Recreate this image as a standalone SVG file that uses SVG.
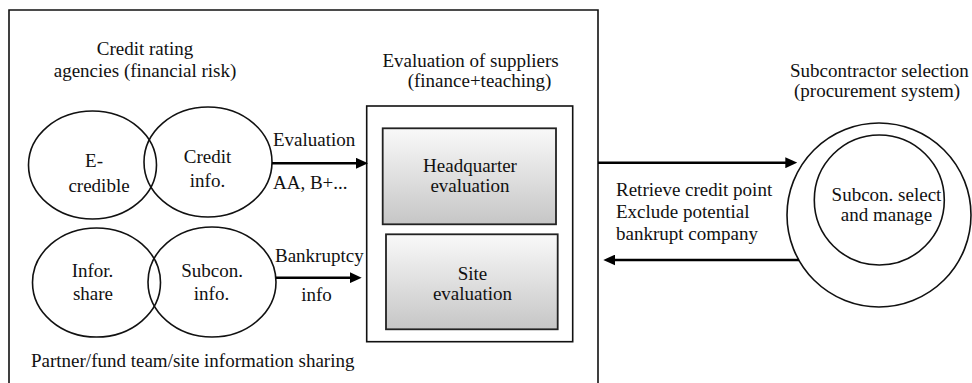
<svg xmlns="http://www.w3.org/2000/svg" width="972" height="383" viewBox="0 0 972 383" font-family="'Liberation Serif', 'Times New Roman', 'DejaVu Serif', serif">
<style>
text{font-family:'Liberation Serif','Times New Roman','DejaVu Serif',serif;font-size:19px;fill:#111}
.c{text-anchor:middle}
.sh{fill:none;stroke:#111;stroke-width:1.6}
.box{stroke:#222;stroke-width:1.8;fill:url(#g)}
.ar{stroke:#000;stroke-width:2.4;fill:none}
</style>
<defs>
<linearGradient id="g" x1="0" y1="0" x2="0" y2="1">
<stop offset="0" stop-color="#f9f9f9"/>
<stop offset="1" stop-color="#c6c6c6"/>
</linearGradient>
<marker id="ah" viewBox="0 0 12 11" refX="2" refY="5.5" markerWidth="12" markerHeight="11" markerUnits="userSpaceOnUse" orient="auto">
<path d="M0,0 L12,5.5 L0,11 z" fill="#000"/>
</marker>
</defs>
<g id="frame">
<path class="sh" d="M9,390 V10 H598 V390"/>
<text class="c" x="145" y="55">Credit rating</text>
<text class="c" x="145" y="77">agencies (financial risk)</text>
<text x="31" y="367">Partner/fund team/site information sharing</text>
</g>
<g id="ecredible">
<ellipse class="sh" cx="92.5" cy="165" rx="64" ry="54"/>
<text class="c" x="94" y="167">E-</text>
<text class="c" x="99" y="192">credible</text>
</g>
<g id="creditinfo">
<ellipse class="sh" cx="208" cy="162" rx="64" ry="55"/>
<text class="c" x="207.5" y="163">Credit</text>
<text class="c" x="207.5" y="187">info.</text>
</g>
<g id="inforshare">
<ellipse class="sh" cx="96.5" cy="282.5" rx="64" ry="54.5"/>
<text class="c" x="92.5" y="277">Infor.</text>
<text class="c" x="93" y="300">share</text>
</g>
<g id="subconinfo">
<ellipse class="sh" cx="212" cy="282" rx="64" ry="55"/>
<text class="c" x="212" y="277">Subcon.</text>
<text class="c" x="211.5" y="300">info.</text>
</g>
<g id="evaluation">
<text class="c" x="470.5" y="67">Evaluation of suppliers</text>
<text class="c" x="479.5" y="87">(finance+teaching)</text>
<rect class="sh" x="366.7" y="106" width="206" height="235.7"/>
</g>
<g id="hq">
<rect class="box" x="382.7" y="128.3" width="173.3" height="96"/>
<text class="c" x="470" y="172">Headquarter</text>
<text class="c" x="470" y="192">evaluation</text>
</g>
<g id="site">
<rect class="box" x="386" y="234.3" width="171.7" height="95"/>
<text class="c" x="472.5" y="280">Site</text>
<text class="c" x="472.5" y="300">evaluation</text>
</g>
<g id="subcontractor">
<text x="790" y="77">Subcontractor selection</text>
<text x="794" y="97">(procurement system)</text>
<circle class="sh" cx="879" cy="215" r="92"/>
<circle class="sh" cx="879.3" cy="200" r="65"/>
<text class="c" x="886.5" y="201">Subcon. select</text>
<text class="c" x="886.5" y="221">and manage</text>
</g>
<g id="connectors">
<line class="ar" x1="272" y1="163.3" x2="358" y2="163.3" marker-end="url(#ah)"/>
<text x="273" y="146">Evaluation</text>
<text x="273" y="189">AA, B+...</text>
<line class="ar" x1="276" y1="277.7" x2="351.7" y2="277.7" marker-end="url(#ah)"/>
<text x="275" y="262">Bankruptcy</text>
<text class="c" x="316.5" y="301">info</text>
<line class="ar" x1="598" y1="162.7" x2="787.3" y2="162.7" marker-end="url(#ah)"/>
<line class="ar" x1="799" y1="260" x2="613.3" y2="260" marker-end="url(#ah)"/>
<text x="616" y="196">Retrieve credit point</text>
<text x="616" y="218">Exclude potential</text>
<text x="616" y="240">bankrupt company</text>
</g>
</svg>
